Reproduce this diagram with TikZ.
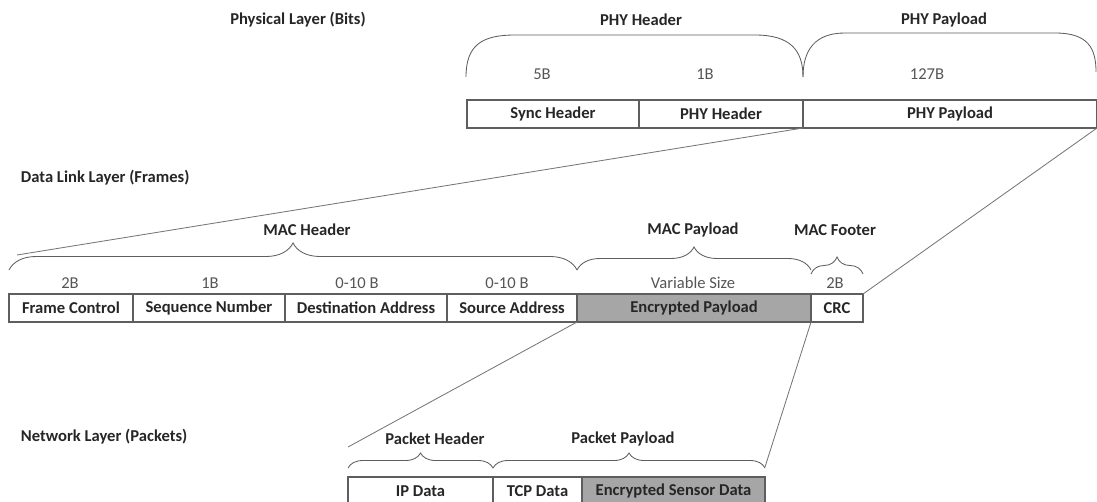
\documentclass[tikz,border=0pt]{standalone}
\usepackage{fontspec}
\setmainfont{Carlito}
\usetikzlibrary{positioning,decorations.pathreplacing}
\definecolor{linegray}{HTML}{5E5E5E}
\definecolor{textgray}{HTML}{262626}
\definecolor{sizegray}{HTML}{555555}
\definecolor{fillgray}{HTML}{A6A6A6}
\begin{document}
\begin{tikzpicture}[x=0.25mm,y=-0.25mm,
  every node/.style={font=\fontsize{11.8}{14}\selectfont,text=textgray},
  field/.style={draw=linegray,line width=1pt,minimum height=7mm,inner sep=0pt,outer sep=0pt,font=\fontsize{11.8}{14}\selectfont\bfseries},
  encfield/.style={field,fill=fillgray},
  title/.style={font=\fontsize{11.8}{14}\selectfont\bfseries},
  size/.style={text=sizegray},
  brc/.style={draw=linegray,line width=0.6pt,decorate,decoration={brace,amplitude=#1}},
  brc/.default=5mm,
  arcline/.style={draw=linegray,line width=0.6pt},
  link/.style={draw=linegray!85,line width=0.6pt}]
  \useasboundingbox (0,0) rectangle (1097,501);
  % layer names:
  \node[title] (phylayer) at (298,20) {Physical Layer (Bits)};
  \node[title,anchor=west] (dllayer) at (16,178) {Data Link Layer (Frames)};
  \node[title,anchor=west] (netlayer) at (16,437) {Network Layer (Packets)};
  % physical layer fields:
  \node[field,minimum width=43mm,anchor=north west] (sync) at (467,100) {Sync Header};
  \node[field,minimum width=41mm,right=0pt of sync] (phyhdr) {PHY Header};
  \node[field,minimum width=73.5mm,right=0pt of phyhdr] (phypay) {PHY Payload};
  % physical layer arcs and sizes:
  \draw[arcline] (466,77) .. controls (466,45) and (482,35) .. (515,35) -- (755,35)
    .. controls (790,35) and (803,50) .. (803,77);
  \draw[arcline] (803,77) .. controls (803,50) and (815,33) .. (845,33) -- (1055,33)
    .. controls (1088,33) and (1096,48) .. (1096,72);
  \node[title] (phyhdrlbl) at (641,20) {PHY Header};
  \node[title] (phypaylbl) at (944,20) {PHY Payload};
  \node[size] (syncsize) at (542,74) {5B};
  \node[size] (phyhdrsize) at (705,74) {1B};
  \node[size] (phypaysize) at (927,74) {127B};
  % data link layer fields:
  \node[field,minimum width=31mm,anchor=north west] (fc) at (9,294) {Frame Control};
  \node[field,minimum width=38mm,right=0pt of fc] (seq) {Sequence Number};
  \node[field,minimum width=40.5mm,right=0pt of seq] (dst) {Destination Address};
  \node[field,minimum width=32.5mm,right=0pt of dst] (src) {Source Address};
  \node[encfield,minimum width=58.5mm,right=0pt of src] (encpay) {Encrypted Payload};
  \node[field,minimum width=13mm,right=0pt of encpay] (crc) {CRC};
  % data link layer braces and sizes:
  \draw[brc=6.75mm] ([yshift=6mm]fc.north west) -- ([yshift=6mm]src.north east);
  \draw[brc=5.75mm] ([yshift=6mm]encpay.north west) -- ([yshift=6mm]encpay.north east);
  \draw[brc=4.25mm] ([yshift=5mm]crc.north west) -- ([yshift=5mm]crc.north east);
  \node[title] (machdrlbl) at (307,230) {MAC Header};
  \node[title] (macpaylbl) at (693,230) {MAC Payload};
  \node[title] (macftrlbl) at (835,230) {MAC Footer};
  \node[size] (fcsize) at (70,283) {2B};
  \node[size] (seqsize) at (210,283) {1B};
  \node[size] (dstsize) at (357,283) {0-10 B};
  \node[size] (srcsize) at (507,283) {0-10 B};
  \node[size] (encsize) at (693,283) {Variable Size};
  \node[size] (crcsize) at (835,283) {2B};
  % network layer fields:
  \node[field,minimum width=36.25mm,anchor=north west] (ip) at (348,477) {IP Data};
  \node[field,minimum width=22.25mm,right=0pt of ip] (tcp) {TCP Data};
  \node[encfield,minimum width=45.75mm,right=0pt of tcp] (esd) {Encrypted Sensor Data};
  % network layer braces:
  \draw[brc=3.75mm] ([yshift=2.25mm]ip.north west) -- ([yshift=2.25mm]ip.north east);
  \draw[brc=3.75mm] ([yshift=2.25mm]tcp.north west) -- ([yshift=2.25mm]esd.north east);
  \node[title] (pkthdrlbl) at (435,439) {Packet Header};
  \node[title] (pktpaylbl) at (623,439) {Packet Payload};
  % zoom lines between layers:
  \coordinate (machdrL) at (17,255);
  \coordinate (pkthdrL) at (348,447);
  \coordinate (pktpayR) at (765,467);
  \draw[link] (phyhdr.south east) -- (machdrL);
  \draw[link] (phypay.south east) -- (crc.north east);
  \draw[link] (src.south east) -- (pkthdrL);
  \draw[link] (encpay.south east) -- (pktpayR);
\end{tikzpicture}
\end{document}
